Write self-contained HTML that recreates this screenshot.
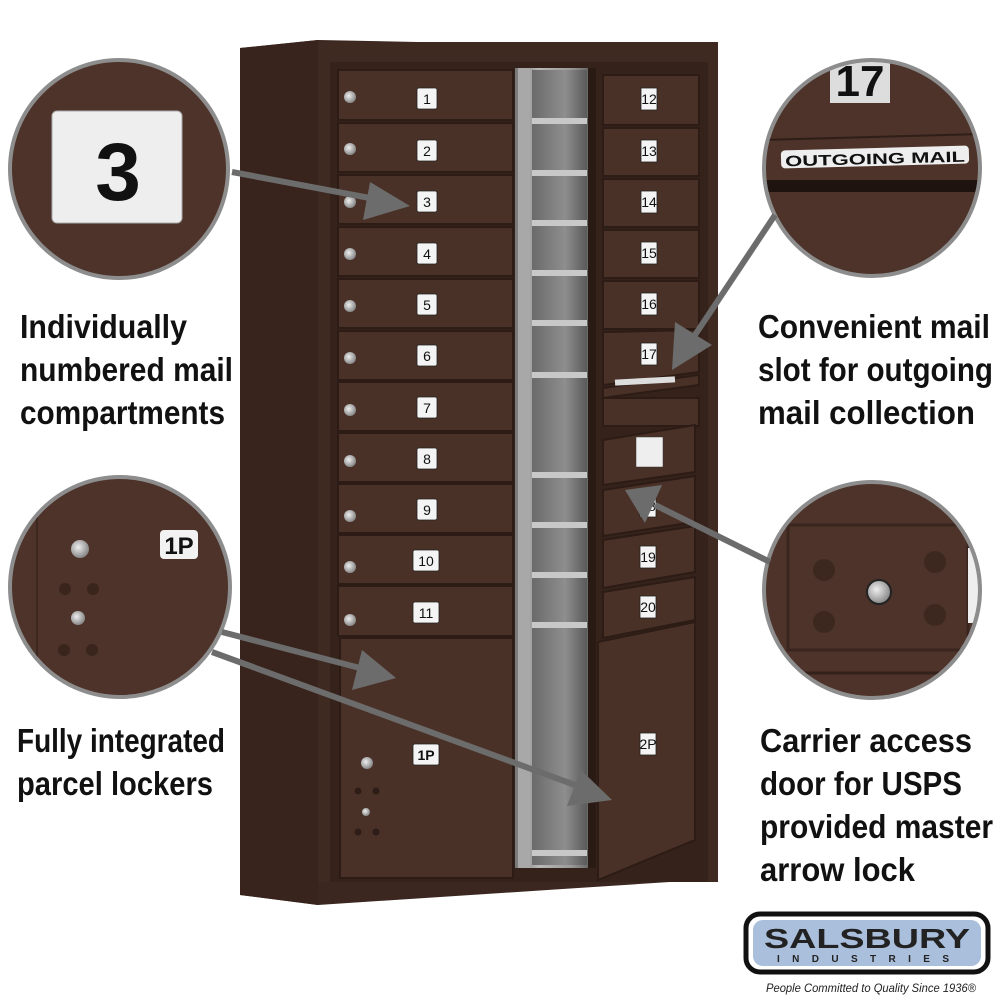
<!DOCTYPE html>
<html><head><meta charset="utf-8"><style>
html,body{margin:0;padding:0;background:#fff;}
svg{display:block}
.lbl{font-family:"Liberation Sans Narrow","Liberation Sans",sans-serif;font-weight:bold;font-size:33px;fill:#111;}
.num{font-family:"Liberation Sans",sans-serif;font-size:14px;fill:#111;text-anchor:middle;}
</style></head><body>
<svg width="1000" height="1000" viewBox="0 0 1000 1000" xmlns="http://www.w3.org/2000/svg">
<defs>
<radialGradient id="lk" cx="0.4" cy="0.4" r="0.6"><stop offset="0" stop-color="#eee"/><stop offset="1" stop-color="#888"/></radialGradient>
<linearGradient id="mid" x1="0" x2="1"><stop offset="0" stop-color="#777"/><stop offset="0.3" stop-color="#b8b8b8"/><stop offset="0.7" stop-color="#9a9a9a"/><stop offset="1" stop-color="#555"/></linearGradient>
<linearGradient id="inner" x1="0" x2="1"><stop offset="0" stop-color="#6a6a6a"/><stop offset="0.6" stop-color="#8e8e8e"/><stop offset="1" stop-color="#5a5a5a"/></linearGradient>
<clipPath id="c1"><circle cx="119" cy="169" r="107"/></clipPath>
<clipPath id="c2"><circle cx="120" cy="587" r="108"/></clipPath>
<clipPath id="c3"><circle cx="872" cy="168" r="106"/></clipPath>
<clipPath id="c4"><circle cx="872" cy="590" r="106"/></clipPath>
</defs>
<!-- cabinet body -->
<polygon points="240,48 318,40 718,48 718,858 700,880 318,905 240,895" fill="#3b271f"/>
<polygon points="240,48 318,40 318,905 240,895" fill="#38241c"/>
<rect x="318" y="42" width="400" height="840" fill="#3f2a21"/>
<rect x="330" y="62" width="378" height="820" fill="#35231b"/>
<!-- middle open section -->
<rect x="515" y="68" width="80" height="800" fill="url(#mid)"/>
<rect x="532" y="70" width="55" height="795" fill="url(#inner)"/>
<g fill="#c8c8c8">
<rect x="532" y="118" width="55" height="6"/><rect x="532" y="170" width="55" height="6"/><rect x="532" y="220" width="55" height="6"/><rect x="532" y="270" width="55" height="6"/><rect x="532" y="320" width="55" height="6"/><rect x="532" y="372" width="55" height="6"/><rect x="532" y="472" width="55" height="6"/><rect x="532" y="522" width="55" height="6"/><rect x="532" y="572" width="55" height="6"/><rect x="532" y="622" width="55" height="6"/><rect x="532" y="850" width="55" height="6"/>
</g>
<rect x="518" y="68" width="12" height="800" fill="#a8a8a8"/>
<rect x="588" y="68" width="8" height="800" fill="#2a1a14"/>
<!-- left doors -->
<g fill="#4a3127" stroke="#2c1c15" stroke-width="2">
<rect x="338" y="70" width="175" height="50"/>
<rect x="338" y="123" width="175" height="49"/>
<rect x="338" y="175" width="175" height="49"/>
<rect x="338" y="227" width="175" height="49"/>
<rect x="338" y="279" width="175" height="49"/>
<rect x="338" y="331" width="175" height="49"/>
<rect x="338" y="382" width="175" height="49"/>
<rect x="338" y="433" width="175" height="49"/>
<rect x="338" y="484" width="175" height="49"/>
<rect x="338" y="535" width="175" height="49"/>
<rect x="338" y="586" width="175" height="50"/>
<rect x="340" y="638" width="173" height="240"/>
</g>
<g fill="url(#lk)">
<circle cx="350" cy="97" r="6"/><circle cx="350" cy="149" r="6"/><circle cx="350" cy="202" r="6"/><circle cx="350" cy="254" r="6"/><circle cx="350" cy="306" r="6"/><circle cx="350" cy="358" r="6"/><circle cx="350" cy="410" r="6"/><circle cx="350" cy="461" r="6"/><circle cx="350" cy="516" r="6"/><circle cx="350" cy="567" r="6"/><circle cx="350" cy="620" r="6"/><circle cx="367" cy="763" r="6"/><circle cx="366" cy="812" r="4"/>
<circle cx="612" cy="98" r="5"/><circle cx="612" cy="150" r="5"/><circle cx="612" cy="202" r="5"/><circle cx="612" cy="255" r="5"/><circle cx="612" cy="306" r="5"/><circle cx="612" cy="358" r="5"/><circle cx="617" cy="461" r="4"/><circle cx="610" cy="512" r="5"/><circle cx="610" cy="565" r="5"/><circle cx="610" cy="616" r="5"/><circle cx="616" cy="755" r="5"/><circle cx="613" cy="803" r="3"/>
</g>
<g fill="#2e1d16"><circle cx="358" cy="791" r="3.5"/><circle cx="376" cy="791" r="3.5"/><circle cx="358" cy="832" r="3.5"/><circle cx="376" cy="832" r="3.5"/></g>
<g fill="#f4f4f4" stroke="#222" stroke-width="0.8">
<rect x="417" y="88" width="20" height="21" rx="2"/><rect x="417" y="140" width="20" height="21" rx="2"/><rect x="417" y="191" width="20" height="21" rx="2"/><rect x="417" y="243" width="20" height="21" rx="2"/><rect x="417" y="294" width="20" height="21" rx="2"/><rect x="417" y="345" width="20" height="21" rx="2"/><rect x="417" y="397" width="20" height="21" rx="2"/><rect x="417" y="448" width="20" height="21" rx="2"/><rect x="417" y="499" width="20" height="21" rx="2"/><rect x="413" y="550" width="26" height="21" rx="2"/><rect x="413" y="602" width="26" height="21" rx="2"/><rect x="413" y="744" width="26" height="21" rx="2"/>
</g>
<g class="num">
<text x="427" y="104">1</text><text x="427" y="156">2</text><text x="427" y="207">3</text><text x="427" y="259">4</text><text x="427" y="310">5</text><text x="427" y="361">6</text><text x="427" y="413">7</text><text x="427" y="464">8</text><text x="427" y="515">9</text><text x="426" y="566">10</text><text x="426" y="618">11</text><text x="426" y="760" font-weight="bold">1P</text>
</g>
<!-- right doors -->
<g fill="#4a3127" stroke="#2c1c15" stroke-width="2">
<rect x="603" y="75" width="96" height="50"/>
<rect x="603" y="128" width="96" height="48"/>
<rect x="603" y="179" width="96" height="48"/>
<rect x="603" y="230" width="96" height="48"/>
<rect x="603" y="281" width="96" height="48"/>
<polygon points="603,332 699,330 699,372 603,385"/>
<polygon points="603,388 699,375 699,385 603,398"/>
<rect x="603" y="398" width="96" height="28"/>
<polygon points="603,440 695,425 695,472 603,485"/>
<polygon points="603,490 695,476 695,522 603,536"/>
<polygon points="603,540 695,526 695,572 603,588"/>
<polygon points="603,592 695,577 695,620 603,638"/>
<polygon points="598,642 695,622 695,840 598,880"/>
</g>
<rect x="615" y="378" width="60" height="6" fill="#ddd" transform="rotate(-3 645 381)"/>
<rect x="636" y="437" width="27" height="30" fill="#eee" stroke="#333" stroke-width="0.5"/>
<g fill="#f4f4f4" stroke="#222" stroke-width="0.8">
<rect x="641" y="88" width="16" height="22"/><rect x="641" y="140" width="16" height="22"/><rect x="641" y="191" width="16" height="22"/><rect x="641" y="242" width="16" height="22"/><rect x="641" y="293" width="16" height="22"/><rect x="641" y="343" width="16" height="22"/><rect x="640" y="495" width="16" height="22"/><rect x="640" y="546" width="16" height="22"/><rect x="640" y="596" width="16" height="22"/><rect x="640" y="733" width="16" height="22"/>
</g>
<g class="num" font-size="12">
<text x="649" y="104">12</text><text x="649" y="156">13</text><text x="649" y="207">14</text><text x="649" y="258">15</text><text x="649" y="309">16</text><text x="649" y="359">17</text><text x="648" y="511">18</text><text x="648" y="562">19</text><text x="648" y="612">20</text><text x="648" y="749">2P</text>
</g>
<!-- circles -->
<g stroke="#8d8d8d" stroke-width="4">
<circle cx="119" cy="169" r="109" fill="#4d3329"/>
<circle cx="120" cy="587" r="110" fill="#4d3329"/>
<circle cx="872" cy="168" r="108" fill="#4d3329"/>
<circle cx="872" cy="590" r="108" fill="#4d3329"/>
</g>
<g clip-path="url(#c1)">
<rect x="52" y="111" width="130" height="112" rx="5" fill="#eee" stroke="#aaa"/>
<text x="118" y="200" font-family="Liberation Sans,sans-serif" font-weight="bold" font-size="82" text-anchor="middle" fill="#111">3</text>
</g>
<g clip-path="url(#c2)">
<rect x="160" y="530" width="38" height="29" rx="4" fill="#f2f2f2"/>
<text x="179" y="554" font-family="Liberation Sans,sans-serif" font-weight="bold" font-size="24" text-anchor="middle" fill="#111">1P</text>
<circle cx="80" cy="549" r="9" fill="url(#lk)"/><circle cx="78" cy="618" r="7" fill="url(#lk)"/>
<g fill="#3a251d"><circle cx="65" cy="589" r="6"/><circle cx="93" cy="589" r="6"/><circle cx="64" cy="650" r="6"/><circle cx="92" cy="650" r="6"/></g>
<line x1="37" y1="470" x2="37" y2="700" stroke="#3d281f" stroke-width="2"/>
</g>
<g clip-path="url(#c3)">
<rect x="830" y="55" width="60" height="48" fill="#ddd"/>
<text x="860" y="96" font-family="Liberation Sans,sans-serif" font-weight="bold" font-size="44" text-anchor="middle" fill="#111">17</text>
<line x1="760" y1="140" x2="985" y2="134" stroke="#2f1e17" stroke-width="2"/>
<rect x="781" y="148" width="188" height="18" rx="4" fill="#eee" transform="rotate(-1.5 875 157)"/>
<text x="875" y="164" font-family="Liberation Sans,sans-serif" font-weight="bold" font-size="15" text-anchor="middle" fill="#111" textLength="180" lengthAdjust="spacingAndGlyphs" transform="rotate(-1.5 875 157)">OUTGOING MAIL</text>
<rect x="760" y="180" width="230" height="12" fill="#1f130f"/>
</g>
<g clip-path="url(#c4)">
<rect x="788" y="525" width="180" height="125" fill="none" stroke="#3a261e" stroke-width="3"/>
<line x1="760" y1="673" x2="985" y2="673" stroke="#33211a" stroke-width="3"/>
<g fill="#3d2820"><circle cx="824" cy="570" r="11"/><circle cx="935" cy="562" r="11"/><circle cx="824" cy="622" r="11"/><circle cx="935" cy="615" r="11"/></g>
<circle cx="879" cy="592" r="12" fill="url(#lk)" stroke="#222" stroke-width="2"/>
<rect x="968" y="548" width="12" height="75" fill="#eee"/>
</g>
<!-- arrows -->
<g stroke="#6c6c6c" stroke-width="6" fill="#6c6c6c">
<line x1="232" y1="172" x2="375" y2="199"/>
<polygon points="410,206 370,182 363,220" stroke="none"/>
<line x1="775" y1="215" x2="695" y2="335"/>
<polygon points="672,370 675,322 712,345" stroke="none"/>
<line x1="222" y1="632" x2="360" y2="668"/>
<polygon points="396,678 362,650 352,690" stroke="none"/>
<line x1="212" y1="652" x2="575" y2="785"/>
<polygon points="612,800 581,770 567,806" stroke="none"/>
<line x1="770" y1="562" x2="655" y2="505"/>
<polygon points="625,490 662,485 645,523" stroke="none"/>
</g>
<!-- labels -->
<text class="lbl" x="20" y="338" textLength="167" lengthAdjust="spacingAndGlyphs">Individually</text>
<text class="lbl" x="20" y="381" textLength="213" lengthAdjust="spacingAndGlyphs">numbered mail</text>
<text class="lbl" x="20" y="424" textLength="205" lengthAdjust="spacingAndGlyphs">compartments</text>
<text class="lbl" x="17" y="752" textLength="208" lengthAdjust="spacingAndGlyphs">Fully integrated</text>
<text class="lbl" x="17" y="795" textLength="196" lengthAdjust="spacingAndGlyphs">parcel lockers</text>
<text class="lbl" x="758" y="338" textLength="232" lengthAdjust="spacingAndGlyphs">Convenient mail</text>
<text class="lbl" x="758" y="381" textLength="235" lengthAdjust="spacingAndGlyphs">slot for outgoing</text>
<text class="lbl" x="758" y="424" textLength="217" lengthAdjust="spacingAndGlyphs">mail collection</text>
<text class="lbl" x="760" y="752" textLength="212" lengthAdjust="spacingAndGlyphs">Carrier access</text>
<text class="lbl" x="760" y="795" textLength="202" lengthAdjust="spacingAndGlyphs">door for USPS</text>
<text class="lbl" x="760" y="838" textLength="233" lengthAdjust="spacingAndGlyphs">provided master</text>
<text class="lbl" x="760" y="881" textLength="155" lengthAdjust="spacingAndGlyphs">arrow lock</text>
<!-- logo -->
<rect x="746" y="914" width="242" height="58" rx="14" fill="#fff" stroke="#111" stroke-width="5"/>
<rect x="753" y="920" width="228" height="46" rx="10" fill="#a9bfdc"/>
<text x="867" y="948" font-family="Liberation Sans,sans-serif" font-weight="bold" font-size="28" text-anchor="middle" fill="#222" textLength="206" lengthAdjust="spacingAndGlyphs">SALSBURY</text>
<text x="867" y="962" font-family="Liberation Sans,sans-serif" font-weight="bold" font-size="10" text-anchor="middle" fill="#222" textLength="180" letter-spacing="8">INDUSTRIES</text>
<text x="766" y="992" font-family="Liberation Sans,sans-serif" font-style="italic" font-size="12" fill="#222" textLength="210" lengthAdjust="spacingAndGlyphs">People Committed to Quality Since 1936®</text>
</svg>
</body></html>
